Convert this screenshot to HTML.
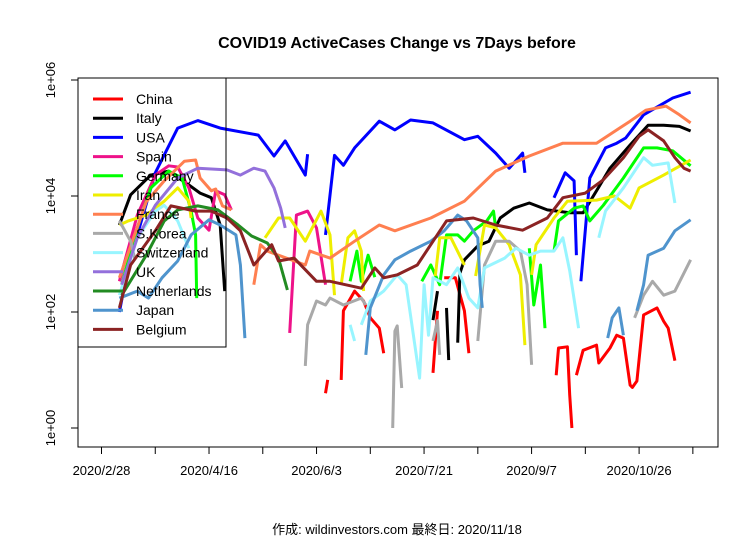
<!DOCTYPE html>
<html><head><meta charset="utf-8"><style>
body{margin:0;background:#fff}
svg{display:block;font-family:"Liberation Sans","Noto Sans CJK JP",sans-serif}
</style></head><body>
<svg id="chart" width="756" height="540" viewBox="0 0 756 540">
<text x="397" y="48" text-anchor="middle" font-size="16" font-weight="bold">COVID19 ActiveCases Change vs 7Days before</text>
<rect x="78" y="78" width="640" height="369" fill="none" stroke="#000"/>
<g id="yaxis"></g>
<g id="xaxis"></g>
<g id="series"></g>
<g id="legend"></g>
<text x="397" y="534" text-anchor="middle" font-size="13">作成: wildinvestors.com 最終日: 2020/11/18</text>
</svg>
<script>
// x: days since 2020/2/28 ; values: log10 of active-case change (null = gap)
const xTickDays=[0,24,48,72,96,120,144,168,192,216,240,264];
const xTickLabels=["2020/2/28","","2020/4/16","","2020/6/3","","2020/7/21","","2020/9/7","","2020/10/26",""];
const yTicks=[0,2,4,6];
const yTickLabels=["1e+00","1e+02","1e+04","1e+06"];
const seriesNames=["China","Italy","USA","Spain","Germany","Iran","France","S.Korea","Switzerland","UK","Netherlands","Japan","Belgium"];
const seriesColors=["#FF0000","#000000","#0000FF","#EE1289","#00FF00","#EEEE00","#FF7F50","#A9A9A9","#98F5FF","#9370DB","#228B22","#4F94CD","#8B2323"];
const china=[[100,0.6],[101,0.83],null,[107,0.83],[108,2.02],[113,2.36],[117,2.19],[120,1.9],[124,1.72],[126,1.29],null,[148,0.95],[150,2.02],null,[153,2.59],[158,2.59],[162,2.02],[164,1.29],null,[203,0.91],[204,1.38],[208,1.4],[209,0.57],[210,0],null,[212,0.91],[215,1.34],[221,1.43],[222,1.12],[227,1.38],[230,1.6],[233,1.55],[236,0.74],[237,0.7],[239,0.81],[242,1.95],[248,2.07],[251,1.84],[253,1.72],[256,1.16]];
const italy=[[8,3.5],[13,4.02],[22,4.36],[30,4.43],[39,4.19],[44,4.05],[49,3.97],[53,3.5],[55,2.36],null,[148,1.86],[150,2.36],null,[154,2.07],[155,1.17],null,[159,1.47],[160,2.67],[162,2.9],[168,3.14],[173,3.22],[178,3.62],[184,3.79],[191,3.88],[199,3.76],[209,3.71],[215,3.71],[221,4.09],[227,4.48],[236,4.88],[244,5.22],[251,5.22],[258,5.2],[263,5.12]];
const usa=[[8,2.0],[12,2.8],[24,4.4],[34,5.17],[43,5.3],[53,5.17],[70,5.05],[77,4.69],[82,4.95],[91,4.36],[92,4.72],null,[100,3.33],[104,4.7],[108,4.53],[113,4.83],[124,5.29],[131,5.14],[138,5.31],[148,5.26],[162,4.97],[168,5.03],[176,4.74],[182,4.48],[188,4.74],[189,4.4],null,[202,3.97],[207,4.4],[211,4.26],[212,2.98],null,[214,2.53],[218,4.31],[225,4.83],[230,4.91],[234,5.0],[242,5.4],[255,5.69],[263,5.79]];
const spain=[[8,2.53],[16,3.67],[24,4.36],[30,4.52],[34,4.5],[39,4.14],[43,3.62],[48,3.41],[51,4.09],[55,4.02],[58,3.76],null,[84,1.64],[87,3.67],[92,3.74],[96,3.45],[100,2.47]];
const germany=[[9,2.47],[16,3.45],[22,4.14],[30,4.43],[36,4.31],[40,3.74],[42,3.33],[42.5,2.24],null,[111,2.53],[114,3.05],[116,2.53],[119,2.98],[122,2.6],null,[143,2.53],[147,2.81],[151,2.47],[154,3.33],[159,3.33],[162,3.22],[166,3.4],[172,3.57],[175,3.74],[176,3.45],null,[191,3.1],[193,2.12],[196,2.81],[198,1.72],null,[202,3.05],[204,3.57],[211,3.79],[215,3.83],[218,3.57],[224,3.84],[233,4.31],[242,4.83],[248,4.83],[255,4.78],[263,4.52]];
const iran=[[8,3.5],[12,3.57],[20,3.67],[28,3.91],[34,4.14],[39,3.91],[40,3.62],null,[73,3.28],[79,3.62],[84,3.62],[91,3.22],[98,3.74],[102,3.33],[104,2.29],null,[107,2.47],[110,3.28],[113,3.4],[116,3.05],[117,2.36],null,[149,2.62],[151,3.28],[156,3.28],[162,2.81],null,[167,2.62],[171,3.5],[176,3.45],[182,3.16],[187,2.64],[189,1.43],null,[192,2.64],[194,3.16],[202,3.62],[208,3.91],[221,3.93],[229,4.0],[236,3.79],[240,4.14],[251,4.36],[263,4.62]];
const france=[[8,2.59],[20,3.9],[28,4.26],[37,4.6],[42,4.62],[44,4.31],[49,4.09],[51,4.12],[54,3.83],[58,3.76],null,[68,2.47],[71,3.16],[74,3.05],[91,2.81],[93,3.05],[102,2.93],[113,3.22],[124,3.5],[131,3.4],[147,3.62],[162,3.91],[176,4.43],[191,4.69],[206,4.91],[221,4.91],[236,5.29],[243,5.48],[252,5.55],[258,5.4],[263,5.26]];
const korea=[[8,3.57],[13,3.22],[15,2.9],null,[91,1.07],[92,1.78],[96,2.19],[100,2.12],[102,2.24],[108,2.12],[116,2.24],[118,2.12],null,[130,0],[131,1.67],[132,1.76],[134,0.69],null,[148,1.5],[150,1.85],[151,1.26],null,[168,1.5],[171,2.81],[176,3.22],[182,3.22],[187,3.05],[190,2.47],[192,1.09],null,[238,1.9],[242,2.29],[246,2.53],[251,2.29],[256,2.36],[263,2.9]];
const swiss=[[8,2.29],[16,3.28],[24,3.74],[28,3.84],[34,3.57],[39,3.1],null,[111,1.78],[113,1.5],null,[116,1.78],[120,2.19],[126,2.36],[132,2.64],[136,2.47],[142,0.86],[144,2.47],[146,1.6],[148,2.59],[154,2.47],[159,2.76],[164,2.24],[168,2.07],[171,2.76],[180,2.93],[185,3.1],[191,2.98],[196,3.05],[202,3.05],[206,3.28],[209,2.71],[213,1.72],null,[222,3.28],[225,3.74],[233,4.14],[242,4.66],[246,4.53],[253,4.57],[256,3.88]];
const uk=[[9,2.47],[16,3.28],[24,3.84],[34,4.31],[43,4.48],[56,4.45],[62,4.36],[68,4.48],[73,4.43],[77,4.14],[80,3.79],[82,3.45]];
const netherlands=[[9,2.29],[20,2.98],[28,3.57],[34,3.76],[43,3.83],[52,3.76],[61,3.5],[67,3.31],[74,3.19],[79,2.93],[83,2.38]];
const japan=[[8,2.24],[16,2.36],[21,2.24],[27,2.59],[34,2.88],[40,3.33],[48,3.59],[53,3.5],[60,3.33],[62,2.81],[64,1.55],null,[118,1.26],[120,2.07],[126,2.64],[131,2.9],[138,3.05],[147,3.22],[153,3.4],[159,3.67],[163,3.57],[168,3.28],[169,2.47],[170,2.07],null,[226,1.55],[228,1.9],[231,2.07],[233,1.6],null,[239,2.02],[242,2.47],[244,2.98],[251,3.1],[256,3.4],[263,3.59]];
const belgium=[[8,2.07],[13,2.81],[24,3.4],[31,3.83],[42,3.74],[49,3.74],[56,3.62],[62,3.4],[68,2.81],[76,3.16],[79,2.88],[86,2.93],[96,2.53],[102,2.53],[116,2.41],[122,2.76],[126,2.59],[132,2.64],[141,2.81],[154,3.57],[166,3.62],[176,3.5],[188,3.41],[199,3.62],[206,3.97],[216,4.05],[224,4.28],[233,4.66],[240,5.03],[244,5.14],[251,4.95],[256,4.66],[260,4.48],[263,4.43]];
const allSeries=[china,italy,usa,spain,germany,iran,france,korea,swiss,uk,netherlands,japan,belgium];

const NS="http://www.w3.org/2000/svg";
function xS(d){return 101.5+d*2.24;}
function yS(v){return 428-v*58;}
function mk(t,a,p){const e=document.createElementNS(NS,t);for(const k in a)e.setAttribute(k,a[k]);p.appendChild(e);return e;}

const ya=document.getElementById('yaxis');
yTicks.forEach((v,i)=>{
  const t=mk('line',{x1:71,x2:78,y1:yS(v),y2:yS(v),stroke:'#000'},ya);
  
  
  const l=mk('text',{x:0,y:0,'font-size':13,'text-anchor':'middle',transform:`translate(55,${yS(v)}) rotate(-90)`},ya);
  l.textContent=yTickLabels[i];
  
  
});
const xa=document.getElementById('xaxis');
xTickDays.forEach((d,i)=>{
  const t=mk('line',{x1:xS(d),x2:xS(d),y1:447,y2:454,stroke:'#000'},xa);
  
  
  if(xTickLabels[i]){
    const l=mk('text',{x:xS(d),y:475,'font-size':13,'text-anchor':'middle'},xa);
    l.textContent=xTickLabels[i];
    
    
  }
});
const sg=document.getElementById('series');
allSeries.forEach((s,i)=>{
  let d='',pen=false;
  s.forEach(p=>{
    if(!p){pen=false;return;}
    d+=(pen?'L':'M')+xS(p[0]).toFixed(1)+' '+yS(p[1]).toFixed(1);pen=true;
  });
  const path=mk('path',{d:d,fill:'none',stroke:seriesColors[i],'stroke-width':3,'stroke-linejoin':'round'},sg);
  
  
});
const lg=document.getElementById('legend');
const box=mk('rect',{x:78,y:78,width:148,height:269,fill:'none',stroke:'#000'},lg);


seriesNames.forEach((n,i)=>{
  const y=99+i*19.2;
  const ln=mk('line',{x1:93,x2:123,y1:y,y2:y,stroke:seriesColors[i],'stroke-width':3},lg);
  
  
  const tx=mk('text',{x:136,y:y+5,'font-size':14},lg);
  tx.textContent=n;
  
  
});
</script>
</body></html>
